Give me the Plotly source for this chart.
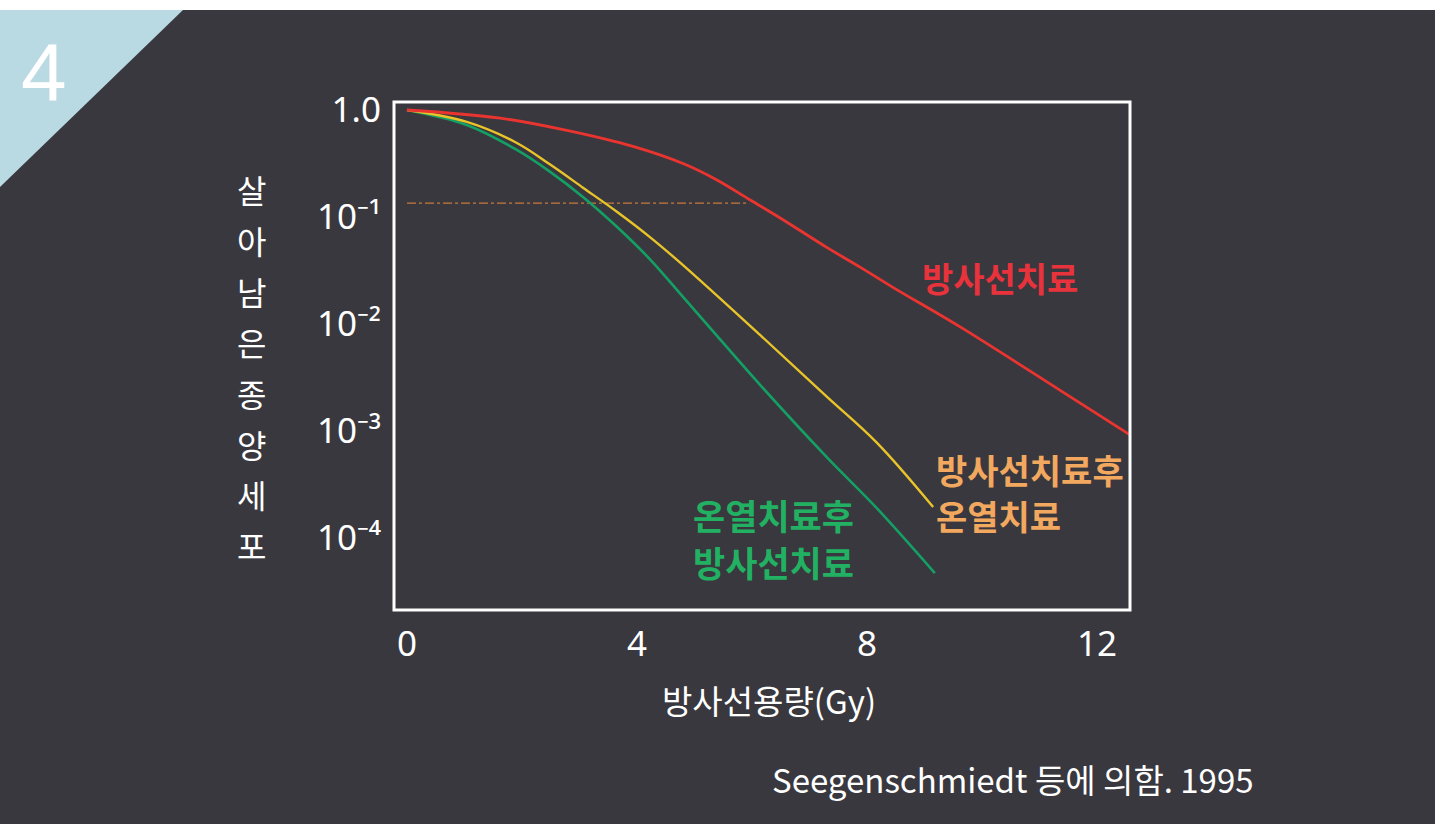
import plotly.graph_objects as go

# ---------------- data ----------------
dose_rt = [0, 1.62, 2.78, 3.93, 4.80, 5.39, 5.97, 6.49, 7.30, 7.88, 8.45, 9.62, 11.36, 12.63]
surv_rt = [1.0, 0.84, 0.645, 0.457, 0.316, 0.222, 0.144, 0.098, 0.052, 0.034, 0.022, 0.0094, 0.0024, 0.00088]

dose_rt_ht = [0, 1.04, 1.91, 2.49, 3.06, 3.65, 4.23, 4.80, 6.14, 7.30, 8.17, 9.15]
surv_rt_ht = [1.0, 0.773, 0.492, 0.309, 0.188, 0.112, 0.0646, 0.0355, 0.0079, 0.0021, 0.00078, 0.000195]

dose_ht_rt = [0, 1.04, 1.91, 2.49, 3.06, 3.65, 4.23, 4.80, 5.27, 6.14, 7.30, 8.17, 9.18]
surv_ht_rt = [1.0, 0.724, 0.423, 0.264, 0.154, 0.081, 0.040, 0.0179, 0.0092, 0.0027, 0.00057, 0.00019, 0.000047]

ref_dose = [0, 5.95]
ref_surv = [0.135, 0.135]

x_tickvals = [0, 4, 8, 12]
y_tickvals = [1, 0.1, 0.01, 0.001, 0.0001]
y_ticktext = ["1.0", "10⁻¹", "10⁻²", "10⁻³", "10⁻⁴"]

label_rt = "방사선치료"
label_rt_ht = ["방사선치료후", "온열치료"]
label_ht_rt = ["온열치료후", "방사선치료"]
x_title = "방사선용량(Gy)"
y_title_chars = list("살아남은종양세포")
source_text = "Seegenschmiedt 등에 의함. 1995"
badge = "4"

# ---------------- layout geometry ----------------
W, H = 1453, 824
L, R, T, B = 394, 1130, 102, 610


def px(x):
    return (x - L) / (R - L)


def py(y):
    return (B - y) / (B - T)


KFONT = "Noto Sans CJK KR, Noto Sans, sans-serif"
BOARD = "#39383e"

fig = go.Figure()

fig.add_trace(go.Scatter(x=ref_dose, y=ref_surv, mode="lines",
                         line=dict(color="#c8783a", width=1.2, dash="dashdot"),
                         hoverinfo="skip", showlegend=False))
fig.add_trace(go.Scatter(x=dose_ht_rt, y=surv_ht_rt, mode="lines", line_shape="spline",
                         line=dict(color="#14a064", width=2.6), showlegend=False))
fig.add_trace(go.Scatter(x=dose_rt_ht, y=surv_rt_ht, mode="lines", line_shape="spline",
                         line=dict(color="#e8c42a", width=2.4), showlegend=False))
fig.add_trace(go.Scatter(x=dose_rt, y=surv_rt, mode="lines", line_shape="spline",
                         line=dict(color="#ea3430", width=2.8), showlegend=False))

shapes = [
    # chalkboard
    dict(type="rect", xref="paper", yref="paper", x0=px(0), x1=px(1435), y0=py(824), y1=py(10),
         fillcolor=BOARD, line=dict(width=0), layer="below"),
    # light-blue corner triangle
    dict(type="path", xref="paper", yref="paper",
         path=f"M {px(0)} {py(10)} L {px(183)} {py(10)} L {px(0)} {py(187)} Z",
         fillcolor="#b9d9e3", line=dict(width=0), layer="below"),
    # plot frame
    dict(type="rect", xref="paper", yref="paper", x0=0, x1=1, y0=0, y1=1,
         line=dict(color="white", width=3), layer="above"),
]

annotations = [
    dict(text=badge, x=px(44), y=py(72), xref="paper", yref="paper", showarrow=False,
         font=dict(family="Liberation Sans, Arial, sans-serif", size=82, color="white"),
         xanchor="center", yanchor="middle"),
    dict(text=label_rt, x=px(1000), y=py(277), xref="paper", yref="paper", showarrow=False,
         font=dict(family=KFONT, size=34, color="#e8323c", weight="bold"),
         xanchor="center", yanchor="middle"),
    dict(text=x_title, x=px(769), y=py(700), xref="paper", yref="paper", showarrow=False,
         font=dict(family=KFONT, size=33, color="white"), xanchor="center", yanchor="middle"),
    dict(text=source_text, x=px(1013), y=py(779), xref="paper", yref="paper", showarrow=False,
         font=dict(family=KFONT, size=33, color="white"), xanchor="center", yanchor="middle"),
]
for i, t in enumerate(label_rt_ht):
    annotations.append(dict(text=t, x=px(934), y=py(469 + 46 * i), xref="paper", yref="paper",
                            showarrow=False, xanchor="left", yanchor="middle",
                            font=dict(family=KFONT, size=34, color="#f2a85e", weight="bold")))
for i, t in enumerate(label_ht_rt):
    annotations.append(dict(text=t, x=px(773), y=py(514 + 47 * i), xref="paper", yref="paper",
                            showarrow=False, xanchor="center", yanchor="middle",
                            font=dict(family=KFONT, size=35, color="#22b062", weight="bold")))
for i, c in enumerate(y_title_chars):
    annotations.append(dict(text=c, x=px(251), y=py(189 + 50.9 * i), xref="paper", yref="paper",
                            showarrow=False, xanchor="center", yanchor="middle",
                            font=dict(family=KFONT, size=32, color="white")))

fig.update_layout(
    width=W, height=H,
    margin=dict(l=L, r=W - R, t=T, b=H - B, pad=0),
    paper_bgcolor="white",
    plot_bgcolor="rgba(0,0,0,0)",
    shapes=shapes,
    annotations=annotations,
    showlegend=False,
    xaxis=dict(range=[(L - 407) / 57.5, (R - 407) / 57.5], tickvals=x_tickvals,
               ticks="", showgrid=False, zeroline=False, showline=False,
               tickfont=dict(family="Noto Sans, sans-serif", size=35, color="white"),
               ticklabelstandoff=10),
    yaxis=dict(type="log", range=[-(B - 110) / 107, -(T - 110) / 107],
               tickvals=y_tickvals, ticktext=y_ticktext,
               ticks="", showgrid=False, zeroline=False, showline=False,
               tickfont=dict(family="Noto Sans, sans-serif", size=35, color="white"),
               ticklabelstandoff=12),
)

fig.write_html("out.html", config={"displayModeBar": False},
               post_script="document.body.style.margin='0';")
